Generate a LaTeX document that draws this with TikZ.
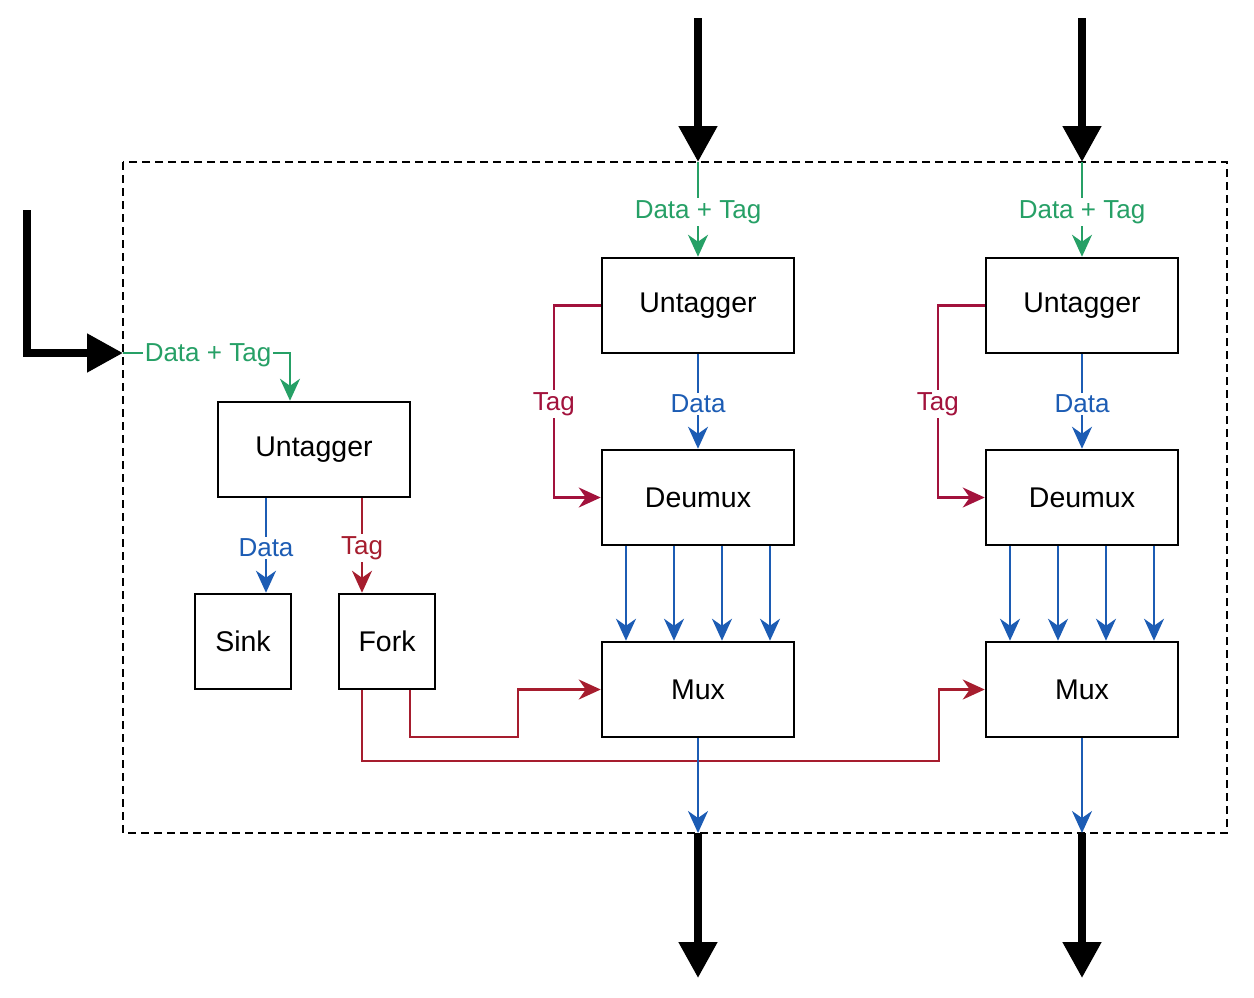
\documentclass[tikz,border=0pt]{standalone}
\usepackage{fontspec}
\setmainfont{Liberation Sans}
\usetikzlibrary{arrows.meta,positioning}

\definecolor{datagreen}{RGB}{38,160,102}
\definecolor{datablue}{RGB}{28,92,180}
\definecolor{tagred}{RGB}{162,18,60}
\definecolor{forkred}{RGB}{166,29,46}

\tikzset{
  block/.style={draw,line width=2.5pt,minimum width=192pt,minimum height=95pt,
                font=\fontsize{28.5}{34}\selectfont},
  smallblock/.style={block,minimum width=96pt},
  lbl/.style={fill=white,inner sep=2pt,yshift=-2.5pt,font=\fontsize{26}{31}\selectfont},
  wire/.style={line width=2.2pt,-{Stealth[length=22pt,width=20pt,inset=7pt]}},
  greenwire/.style={wire,datagreen,text=datagreen},
  bluewire/.style={wire,datablue,text=datablue},
  tagwire/.style={wire,tagred,text=tagred},
  forkwire/.style={wire,forkred,text=forkred},
  bigarrow/.style={line width=8pt,-{Triangle[length=36pt,width=37pt]}},
}

\begin{document}
\begin{tikzpicture}[x=1pt,y=-1pt]
  \useasboundingbox (0,0) rectangle (1254,997);

  % frame
  \draw[dashed,line width=2pt,dash pattern=on 8pt off 5pt] (123,162) rectangle (1227,833);
  \coordinate (inA) at (123,353);
  \coordinate (inB) at (698,162);
  \coordinate (inC) at (1082,162);
  \coordinate (outB) at (698,833);
  \coordinate (outC) at (1082,833);

  % left column
  \node[block] (untagA) at (314,449.5) {Untagger};
  \node[smallblock] (sink) at (243,641.5) {Sink};
  \node[smallblock] (fork) at (387,641.5) {Fork};

  % middle column
  \node[block] (untagB) at (698,305.5) {Untagger};
  \node[block] (deumuxB) at (698,497.5) {Deumux};
  \node[block] (muxB) at (698,689.5) {Mux};

  % right column
  \node[block] (untagC) at (1082,305.5) {Untagger};
  \node[block] (deumuxC) at (1082,497.5) {Deumux};
  \node[block] (muxC) at (1082,689.5) {Mux};

  % big external arrows
  \draw[bigarrow] (27,210) |- (inA);
  \draw[bigarrow] (698,18) -- (inB);
  \draw[bigarrow] (1082,18) -- (inC);
  \draw[bigarrow] (outB) -- (698,978);
  \draw[bigarrow] (outC) -- (1082,978);

  % left untagger
  \draw[greenwire] (inA) -| ([xshift=-24pt]untagA.north);
  \node[lbl,text=datagreen] at (208,353) {Data + Tag};
  \draw[bluewire] ([xshift=-48pt]untagA.south) -- node[lbl]{Data} ([xshift=23pt]sink.north);
  \draw[forkwire] ([xshift=48pt]untagA.south) -- node[lbl]{Tag} ([xshift=-25pt]fork.north);

  % fork outputs
  \draw[forkwire] ([xshift=23pt]fork.south) |- (518,737) |- (muxB.west);
  \draw[forkwire] ([xshift=-25pt]fork.south) |- (939,761) |- (muxC.west);

  % middle and right chains
  \foreach \col/\inp/\outp in {B/inB/outB,C/inC/outC}
  {
    \draw[greenwire] (\inp) -- node[lbl]{Data + Tag} (untag\col);
    \draw[bluewire] (untag\col) -- node[lbl]{Data} (deumux\col);
    \draw[tagwire] (untag\col.west) -- ++(-47,0) |- node[lbl,pos=0.25]{Tag} (deumux\col.west);
    \foreach \dx in {-72,-24,24,72}
      \draw[bluewire] ([xshift=\dx pt]deumux\col.south) -- ([xshift=\dx pt]mux\col.north);
    \draw[bluewire] (mux\col) -- (\outp);
  }
\end{tikzpicture}
\end{document}
